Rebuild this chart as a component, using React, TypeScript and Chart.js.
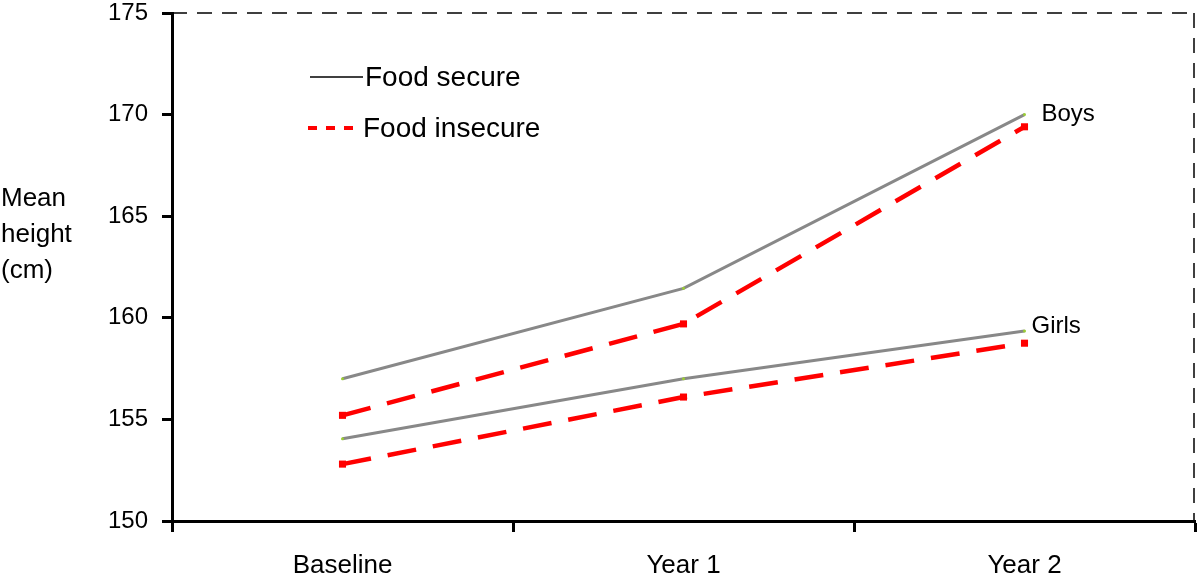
import React, { useEffect, useRef } from "react";
import { Chart, registerables } from "chart.js";

Chart.register(...registerables);

const categories = ["Baseline", "Year 1", "Year 2"];
const boysSecure = [157.0, 161.45, 170.0];
const boysInsecure = [155.2, 159.7, 169.4];
const girlsSecure = [154.05, 157.0, 159.35];
const girlsInsecure = [152.8, 156.1, 158.75];
const yTicks = [150, 155, 160, 165, 170, 175];
const legendLabels = ["Food secure", "Food insecure"];
const groupLabels = ["Boys", "Girls"];
const yTitleLines = ["Mean", "height", "(cm)"];

const FONT = "'Liberation Sans', Arial, sans-serif";
const GRAY = "#888888";
const RED = "#ff0000";
const DOT = "#9acd32";

const overlayPlugin = {
  id: "overlay",
  beforeDatasetsDraw(chart: any) {
    const { ctx, chartArea } = chart;
    ctx.save();
    ctx.strokeStyle = "#000";
    ctx.lineWidth = 1.5;
    ctx.setLineDash([15, 10]);
    ctx.beginPath();
    ctx.moveTo(chartArea.left, chartArea.top);
    ctx.lineTo(chartArea.right - 1, chartArea.top);
    ctx.stroke();
    ctx.beginPath();
    ctx.moveTo(chartArea.right - 1, chartArea.top);
    ctx.lineTo(chartArea.right - 1, chartArea.bottom);
    ctx.stroke();
    ctx.restore();
  },
  afterDraw(chart: any) {
    const { ctx, chartArea, scales } = chart;
    const x = scales.x;
    const y = scales.y;
    ctx.save();
    ctx.fillStyle = "#000";
    ctx.textBaseline = "alphabetic";
    ctx.textAlign = "left";
    // y-axis title
    ctx.font = `26px ${FONT}`;
    yTitleLines.forEach((t, i) => ctx.fillText(t, 1, 206 + i * 36));
    // legend
    const lx = chartArea.left + 138;
    const ly1 = 77;
    const ly2 = 128;
    ctx.lineWidth = 1.5;
    ctx.strokeStyle = "#000";
    ctx.beginPath();
    ctx.moveTo(lx, ly1);
    ctx.lineTo(lx + 53, ly1);
    ctx.stroke();
    ctx.strokeStyle = RED;
    ctx.lineWidth = 4;
    ctx.setLineDash([9, 9]);
    ctx.beginPath();
    ctx.moveTo(lx - 2, ly2);
    ctx.lineTo(lx + 50, ly2);
    ctx.stroke();
    ctx.setLineDash([]);
    ctx.font = `28px ${FONT}`;
    ctx.fillText(legendLabels[0], lx + 55, ly1 + 9);
    ctx.fillText(legendLabels[1], lx + 53, ly2 + 9);
    // group labels
    ctx.font = `24px ${FONT}`;
    const bx = x.getPixelForValue(2);
    ctx.fillText(groupLabels[0], bx + 17, y.getPixelForValue(boysSecure[2]) + 6);
    ctx.fillText(groupLabels[1], bx + 7, y.getPixelForValue(girlsSecure[2]) + 2);
    ctx.restore();
  },
};

export default function App() {
  const ref = useRef<HTMLCanvasElement>(null);
  useEffect(() => {
    if (!ref.current) return;
    Chart.defaults.font.family = FONT;
    const grayDs = (data: number[]) => ({
      data,
      borderColor: GRAY,
      borderWidth: 3,
      pointRadius: 1.5,
      pointBackgroundColor: DOT,
      pointBorderColor: DOT,
      pointBorderWidth: 0,
      tension: 0,
    });
    const redDs = (data: number[]) => ({
      data,
      borderColor: RED,
      borderWidth: 4.5,
      borderDash: [29, 17],
      pointStyle: "rect" as const,
      pointRadius: 5,
      pointBackgroundColor: RED,
      pointBorderColor: RED,
      pointBorderWidth: 0,
      tension: 0,
    });
    const chart = new Chart(ref.current, {
      type: "line",
      data: {
        labels: categories,
        datasets: [
          redDs(boysInsecure),
          redDs(girlsInsecure),
          grayDs(boysSecure),
          grayDs(girlsSecure),
        ],
      },
      options: {
        animation: false,
        responsive: false,
        layout: { padding: { top: 13, right: 4, left: 0, bottom: 0 } },
        plugins: { legend: { display: false }, tooltip: { enabled: false } },
        scales: {
          x: {
            type: "category",
            offset: true,
            grid: {
              offset: true,
              drawOnChartArea: false,
              drawTicks: true,
              tickLength: 11,
              tickWidth: 3,
              tickColor: "#000",
              color: "#000",
            },
            border: { display: true, color: "#000", width: 3 },
            ticks: { color: "#000", font: { size: 26 }, padding: 18 },
            afterFit(scale: any) {
              scale.height = 58;
              scale.paddingLeft = 0;
              scale.paddingRight = 0;
            },
          },
          y: {
            min: 150,
            max: 175,
            afterBuildTicks(scale: any) {
              scale.ticks = yTicks.map((v) => ({ value: v }));
            },
            grid: {
              drawOnChartArea: false,
              drawTicks: true,
              tickLength: 10,
              tickWidth: 3,
              tickColor: "#000",
              color: "#000",
            },
            border: { display: true, color: "#000", width: 3 },
            ticks: { color: "#000", font: { size: 24 }, padding: 14 },
            afterFit(scale: any) {
              scale.width = 172;
              scale.paddingTop = 0;
              scale.paddingBottom = 0;
            },
          },
        },
      },
      plugins: [overlayPlugin],
    });
    return () => chart.destroy();
  }, []);
  return (
    <div style={{ position: "absolute", left: 0, top: 0, width: 1200, height: 579 }}>
      <canvas ref={ref} width={1200} height={579} style={{ display: "block" }} />
    </div>
  );
}
